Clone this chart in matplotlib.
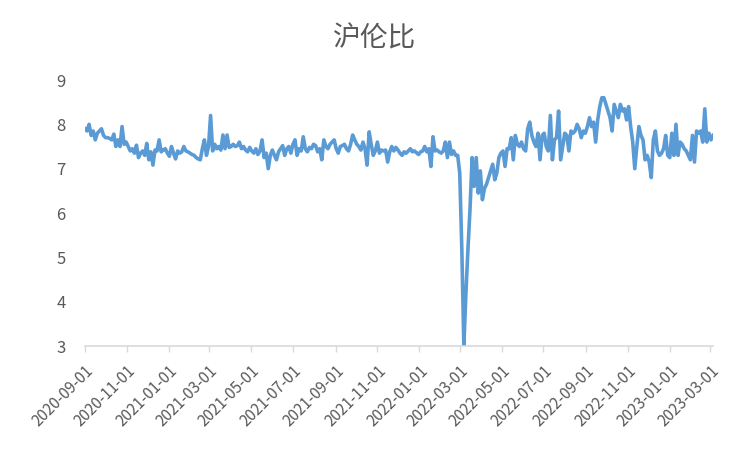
import matplotlib
matplotlib.use("Agg")
import matplotlib.pyplot as plt
import pandas as pd

# ratio series, one reading roughly every 3 days from 2020-09-01
start_date = "2020-09-01"
step_days = 3
ratio = [
    7.9, 7.85, 8.0, 7.75, 7.85, 7.65, 7.8, 7.85, 7.9, 7.75,
    7.7, 7.7, 7.68, 7.65, 7.78, 7.5, 7.65, 7.5, 7.95, 7.55,
    7.6, 7.5, 7.4, 7.45, 7.35, 7.53, 7.25, 7.35, 7.4, 7.3,
    7.57, 7.2, 7.38, 7.08, 7.42, 7.4, 7.65, 7.38, 7.42, 7.45,
    7.35, 7.28, 7.5, 7.35, 7.22, 7.4, 7.35, 7.38, 7.5, 7.4,
    7.38, 7.35, 7.32, 7.3, 7.25, 7.22, 7.2, 7.45, 7.65, 7.3,
    7.5, 8.2, 7.4, 7.55, 7.45, 7.5, 7.42, 7.76, 7.45, 7.76,
    7.48, 7.5, 7.55, 7.5, 7.52, 7.6, 7.45, 7.5, 7.42, 7.38,
    7.48, 7.4, 7.35, 7.45, 7.32, 7.4, 7.65, 7.25, 7.35, 7.0,
    7.3, 7.42, 7.3, 7.2, 7.38, 7.45, 7.52, 7.3, 7.45, 7.5,
    7.35, 7.55, 7.65, 7.3, 7.45, 7.4, 7.72, 7.45, 7.38, 7.48,
    7.45, 7.55, 7.52, 7.38, 7.45, 7.2, 7.65, 7.5, 7.45, 7.55,
    7.6, 7.65, 7.45, 7.35, 7.5, 7.52, 7.55, 7.45, 7.4, 7.55,
    7.76, 7.65, 7.55, 7.5, 7.42, 7.6, 7.45, 7.08, 7.83, 7.55,
    7.3, 7.4, 7.6, 7.35, 7.42, 7.4, 7.42, 7.15, 7.38, 7.5,
    7.4, 7.48, 7.42, 7.35, 7.3, 7.38, 7.35, 7.4, 7.45, 7.38,
    7.4, 7.36, 7.32, 7.38, 7.4, 7.5, 7.38, 7.45, 7.05, 7.72,
    7.4, 7.42, 7.38, 7.35, 7.4, 7.6, 7.25, 7.6, 7.32, 7.4,
    7.3, 7.3, 6.9, 5.2, 3.0, 4.2, 5.2, 6.1, 7.25, 6.6,
    7.25, 6.45, 6.95, 6.3, 6.55, 6.65, 6.8, 6.95, 7.1, 6.75,
    6.9, 7.25, 7.35, 7.4, 7.05, 7.45, 7.45, 7.7, 7.2, 7.75,
    7.55, 7.5, 7.6, 7.45, 7.4, 7.9, 8.05, 7.75, 7.6, 7.5,
    7.8, 7.2, 7.75, 7.8, 7.5, 7.4, 8.2, 7.2, 7.65, 7.7,
    8.3, 7.2, 7.5, 7.8, 7.75, 7.4, 7.85, 7.8, 7.85, 8.0,
    7.9, 7.7, 7.85, 7.8, 7.95, 8.15, 7.95, 8.05, 7.6, 8.1,
    8.4, 8.6, 8.6, 8.45, 8.3, 8.15, 7.85, 8.45, 8.3, 8.15,
    8.45, 8.3, 8.35, 8.1, 8.4, 7.95, 7.6, 7.0, 7.5, 7.95,
    7.75, 7.65, 7.2, 7.3, 7.15, 6.8, 7.65, 7.85, 7.4, 7.3,
    7.35, 7.45, 7.75, 7.3, 7.25, 7.8, 7.3, 8.0, 7.3, 7.6,
    7.55, 7.45, 7.4, 7.3, 7.2, 7.75, 7.15, 7.85, 7.8, 7.85,
    7.6, 8.35, 7.6, 7.8, 7.65, 7.75,
]
dates = pd.date_range(start_date, periods=len(ratio), freq=f"{step_days}D")

tick_dates = pd.date_range("2020-09-01", "2023-03-01", freq="2MS")
tick_labels = [d.strftime("%Y-%m-%d") for d in tick_dates]

plt.rcParams["font.family"] = ["Noto Sans CJK SC", "DejaVu Sans"]
text_grey = "#595959"

fig = plt.figure(figsize=(7.5, 4.5), dpi=100)
ax = fig.add_axes([0.1133, 0.2311, 0.8374, 0.5911])

ax.plot(dates, ratio, color="#5B9BD5", linewidth=2.6, solid_joinstyle="round")

ax.set_ylim(3, 9)
ax.set_yticks(range(3, 10))
ax.set_xlim(dates[0], dates[-1])
ax.set_xticks(tick_dates)
ax.set_xticklabels(tick_labels, rotation=45, ha="right", va="top",
                   rotation_mode="anchor", fontsize=11, color=text_grey)
ax.tick_params(axis="y", length=0, pad=14, labelsize=12, labelcolor=text_grey)
ax.tick_params(axis="x", length=4, width=1, color="#D9D9D9", pad=8)

for side in ["top", "right", "left"]:
    ax.spines[side].set_visible(False)
ax.spines["bottom"].set_color("#D9D9D9")
ax.spines["bottom"].set_linewidth(1.2)

fig.suptitle("沪伦比", x=0.499, y=0.948, fontsize=20, color=text_grey)

fig.savefig("out.png", dpi=100)
